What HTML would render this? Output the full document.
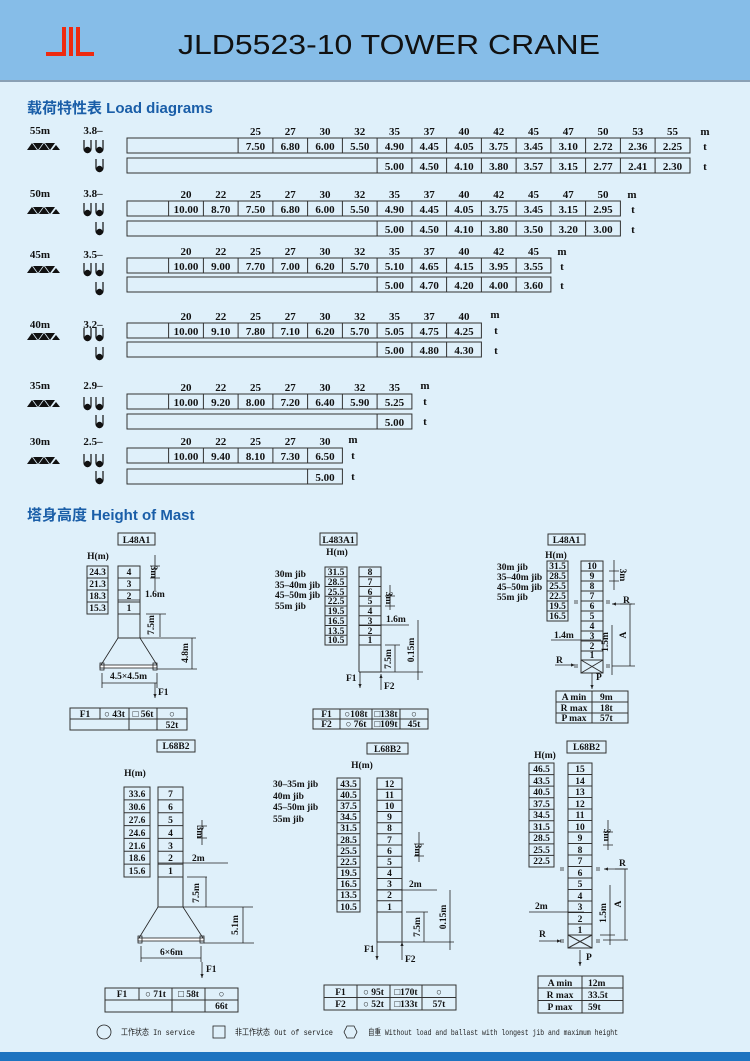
<!DOCTYPE html>
<html><head><meta charset="utf-8"><style>
html,body{margin:0;padding:0;background:#dff0fa;}
svg{display:block}
.n{font-family:"Liberation Serif",serif;font-weight:bold;font-size:11px;text-anchor:middle;fill:#111}
.s{font-family:"Liberation Serif",serif;font-weight:bold;font-size:9.5px;fill:#111}
.c{text-anchor:middle}
.b{fill:none;stroke:#333;stroke-width:1}
.l{stroke:#222;stroke-width:0.8;fill:none}
</style></head><body>
<svg width="750" height="1061" viewBox="0 0 750 1061" xmlns="http://www.w3.org/2000/svg">
<defs>
<g id="jib"><polygon points="0,7 5,0 10,7" fill="#111"/><polygon points="6,0 16,0 11,7" fill="#111"/><polygon points="12,7 17,0 22,7" fill="#111"/><polygon points="18,0 28,0 23,7" fill="#111"/><polygon points="25,7 29,2 33,7" fill="#111"/></g>
<g id="hk"><path d="M0,-8 V1 A3.5,3.5 0 0 0 7,1 V-8" fill="none" stroke="#111" stroke-width="1.2"/><circle cx="3.5" cy="2" r="3.2" fill="#111"/></g>
<marker id="ar" markerWidth="6" markerHeight="6" refX="5" refY="3" orient="auto"><path d="M0,1 L5,3 L0,5z" fill="#222"/></marker>
</defs>
<rect x="0" y="0" width="750" height="80" fill="#86bde8"/>
<rect x="0" y="80" width="750" height="2" fill="#8aa0b4"/>
<g fill="#ee2a10"><rect x="46" y="52" width="20" height="4"/><rect x="62" y="27" width="4" height="29"/><rect x="69" y="27" width="4" height="29"/><rect x="76" y="27" width="4" height="29"/><rect x="76" y="52" width="18" height="4"/></g>
<text x="178" y="54" font-family="Liberation Sans,sans-serif" font-size="28" fill="#111" textLength="422" lengthAdjust="spacingAndGlyphs">JLD5523-10   TOWER  CRANE</text>
<rect x="0" y="1052" width="750" height="9" fill="#1e74c0"/>

<text x="27" y="113" font-family="Liberation Sans,'Noto Sans CJK SC',sans-serif" font-weight="bold" font-size="15" fill="#1a5ea8">载荷特性表 Load diagrams</text>
<text x="27" y="520" font-family="Liberation Sans,'Noto Sans CJK SC',sans-serif" font-weight="bold" font-size="15" fill="#1a5ea8">塔身高度 Height of Mast</text>

<g class="n">
<text x="40" y="134">55m</text><text x="93" y="134">3.8–</text>
<text x="40" y="197">50m</text><text x="93" y="197">3.8–</text>
<text x="40" y="258">45m</text><text x="93" y="258">3.5–</text>
<text x="40" y="328">40m</text><text x="93" y="328">3.2–</text>
<text x="40" y="389">35m</text><text x="93" y="389">2.9–</text>
<text x="40" y="445">30m</text><text x="93" y="445">2.5–</text>
</g>
<use href="#jib" x="27" y="143"/><use href="#hk" x="84" y="148"/><use href="#hk" x="96" y="148"/><use href="#hk" x="96" y="167"/>
<use href="#jib" x="27" y="207"/><use href="#hk" x="84" y="211"/><use href="#hk" x="96" y="211"/><use href="#hk" x="96" y="230"/>
<use href="#jib" x="27" y="266"/><use href="#hk" x="84" y="271"/><use href="#hk" x="96" y="271"/><use href="#hk" x="96" y="290"/>
<use href="#jib" x="27" y="333"/><use href="#hk" x="84" y="336"/><use href="#hk" x="96" y="336"/><use href="#hk" x="96" y="355"/>
<use href="#jib" x="27" y="400"/><use href="#hk" x="84" y="405"/><use href="#hk" x="96" y="405"/><use href="#hk" x="96" y="423"/>
<use href="#jib" x="27" y="457"/><use href="#hk" x="84" y="462"/><use href="#hk" x="96" y="462"/><use href="#hk" x="96" y="479"/>

<!-- 55m -->
<g class="b"><rect x="127" y="138" width="563" height="15"/><rect x="127" y="158" width="563" height="15"/>
<path d="M238.1,138v15M272.9,138v15M307.6,138v15M342.4,138v15M377.1,138v15M411.9,138v15M446.6,138v15M481.4,138v15M516.1,138v15M550.9,138v15M585.6,138v15M620.4,138v15M655.1,138v15"/>
<path d="M377.1,158v15M411.9,158v15M446.6,158v15M481.4,158v15M516.1,158v15M550.9,158v15M585.6,158v15M620.4,158v15M655.1,158v15"/></g>
<g class="n"><text x="255.5" y="135">25</text><text x="290.3" y="135">27</text><text x="325" y="135">30</text><text x="359.8" y="135">32</text><text x="394.5" y="135">35</text><text x="429.3" y="135">37</text><text x="464" y="135">40</text><text x="498.8" y="135">42</text><text x="533.5" y="135">45</text><text x="568.3" y="135">47</text><text x="603" y="135">50</text><text x="637.8" y="135">53</text><text x="672.5" y="135">55</text><text x="705" y="135">m</text>
<text x="255.5" y="150">7.50</text><text x="290.3" y="150">6.80</text><text x="325" y="150">6.00</text><text x="359.8" y="150">5.50</text><text x="394.5" y="150">4.90</text><text x="429.3" y="150">4.45</text><text x="464" y="150">4.05</text><text x="498.8" y="150">3.75</text><text x="533.5" y="150">3.45</text><text x="568.3" y="150">3.10</text><text x="603" y="150">2.72</text><text x="637.8" y="150">2.36</text><text x="672.5" y="150">2.25</text><text x="705" y="150">t</text>
<text x="394.5" y="170">5.00</text><text x="429.3" y="170">4.50</text><text x="464" y="170">4.10</text><text x="498.8" y="170">3.80</text><text x="533.5" y="170">3.57</text><text x="568.3" y="170">3.15</text><text x="603" y="170">2.77</text><text x="637.8" y="170">2.41</text><text x="672.5" y="170">2.30</text><text x="705" y="170">t</text></g>

<!-- 50m -->
<g class="b"><rect x="127" y="201" width="493.4" height="15"/><rect x="127" y="221" width="493.4" height="15"/>
<path d="M168.6,201v15M203.4,201v15M238.1,201v15M272.9,201v15M307.6,201v15M342.4,201v15M377.1,201v15M411.9,201v15M446.6,201v15M481.4,201v15M516.1,201v15M550.9,201v15M585.6,201v15"/>
<path d="M377.1,221v15M411.9,221v15M446.6,221v15M481.4,221v15M516.1,221v15M550.9,221v15M585.6,221v15"/></g>
<g class="n"><text x="186" y="198">20</text><text x="220.8" y="198">22</text><text x="255.5" y="198">25</text><text x="290.3" y="198">27</text><text x="325" y="198">30</text><text x="359.8" y="198">32</text><text x="394.5" y="198">35</text><text x="429.3" y="198">37</text><text x="464" y="198">40</text><text x="498.8" y="198">42</text><text x="533.5" y="198">45</text><text x="568.3" y="198">47</text><text x="603" y="198">50</text><text x="632" y="198">m</text>
<text x="186" y="213">10.00</text><text x="220.8" y="213">8.70</text><text x="255.5" y="213">7.50</text><text x="290.3" y="213">6.80</text><text x="325" y="213">6.00</text><text x="359.8" y="213">5.50</text><text x="394.5" y="213">4.90</text><text x="429.3" y="213">4.45</text><text x="464" y="213">4.05</text><text x="498.8" y="213">3.75</text><text x="533.5" y="213">3.45</text><text x="568.3" y="213">3.15</text><text x="603" y="213">2.95</text><text x="633" y="213">t</text>
<text x="394.5" y="233">5.00</text><text x="429.3" y="233">4.50</text><text x="464" y="233">4.10</text><text x="498.8" y="233">3.80</text><text x="533.5" y="233">3.50</text><text x="568.3" y="233">3.20</text><text x="603" y="233">3.00</text><text x="633" y="233">t</text></g>

<!-- 45m -->
<g class="b"><rect x="127" y="258" width="423.9" height="15"/><rect x="127" y="277" width="423.9" height="15"/>
<path d="M168.6,258v15M203.4,258v15M238.1,258v15M272.9,258v15M307.6,258v15M342.4,258v15M377.1,258v15M411.9,258v15M446.6,258v15M481.4,258v15M516.1,258v15"/>
<path d="M377.1,277v15M411.9,277v15M446.6,277v15M481.4,277v15M516.1,277v15"/></g>
<g class="n"><text x="186" y="255">20</text><text x="220.8" y="255">22</text><text x="255.5" y="255">25</text><text x="290.3" y="255">27</text><text x="325" y="255">30</text><text x="359.8" y="255">32</text><text x="394.5" y="255">35</text><text x="429.3" y="255">37</text><text x="464" y="255">40</text><text x="498.8" y="255">42</text><text x="533.5" y="255">45</text><text x="562" y="255">m</text>
<text x="186" y="270">10.00</text><text x="220.8" y="270">9.00</text><text x="255.5" y="270">7.70</text><text x="290.3" y="270">7.00</text><text x="325" y="270">6.20</text><text x="359.8" y="270">5.70</text><text x="394.5" y="270">5.10</text><text x="429.3" y="270">4.65</text><text x="464" y="270">4.15</text><text x="498.8" y="270">3.95</text><text x="533.5" y="270">3.55</text><text x="562" y="270">t</text>
<text x="394.5" y="289">5.00</text><text x="429.3" y="289">4.70</text><text x="464" y="289">4.20</text><text x="498.8" y="289">4.00</text><text x="533.5" y="289">3.60</text><text x="562" y="289">t</text></g>

<!-- 40m -->
<g class="b"><rect x="127" y="323" width="354.4" height="15"/><rect x="127" y="342" width="354.4" height="15"/>
<path d="M168.6,323v15M203.4,323v15M238.1,323v15M272.9,323v15M307.6,323v15M342.4,323v15M377.1,323v15M411.9,323v15M446.6,323v15"/>
<path d="M377.1,342v15M411.9,342v15M446.6,342v15"/></g>
<g class="n"><text x="186" y="320">20</text><text x="220.8" y="320">22</text><text x="255.5" y="320">25</text><text x="290.3" y="320">27</text><text x="325" y="320">30</text><text x="359.8" y="320">32</text><text x="394.5" y="320">35</text><text x="429.3" y="320">37</text><text x="464" y="320">40</text><text x="495" y="318">m</text>
<text x="186" y="335">10.00</text><text x="220.8" y="335">9.10</text><text x="255.5" y="335">7.80</text><text x="290.3" y="335">7.10</text><text x="325" y="335">6.20</text><text x="359.8" y="335">5.70</text><text x="394.5" y="335">5.05</text><text x="429.3" y="335">4.75</text><text x="464" y="335">4.25</text><text x="496" y="334">t</text>
<text x="394.5" y="354">5.00</text><text x="429.3" y="354">4.80</text><text x="464" y="354">4.30</text><text x="496" y="354">t</text></g>

<!-- 35m -->
<g class="b"><rect x="127" y="394" width="284.9" height="15"/><rect x="127" y="414" width="284.9" height="15"/>
<path d="M168.6,394v15M203.4,394v15M238.1,394v15M272.9,394v15M307.6,394v15M342.4,394v15M377.1,394v15"/>
<path d="M377.1,414v15"/></g>
<g class="n"><text x="186" y="391">20</text><text x="220.8" y="391">22</text><text x="255.5" y="391">25</text><text x="290.3" y="391">27</text><text x="325" y="391">30</text><text x="359.8" y="391">32</text><text x="394.5" y="391">35</text><text x="425" y="389">m</text>
<text x="186" y="406">10.00</text><text x="220.8" y="406">9.20</text><text x="255.5" y="406">8.00</text><text x="290.3" y="406">7.20</text><text x="325" y="406">6.40</text><text x="359.8" y="406">5.90</text><text x="394.5" y="406">5.25</text><text x="425" y="405">t</text>
<text x="394.5" y="426">5.00</text><text x="425" y="425">t</text></g>

<!-- 30m -->
<g class="b"><rect x="127" y="448" width="215.4" height="15"/><rect x="127" y="469" width="215.4" height="15"/>
<path d="M168.6,448v15M203.4,448v15M238.1,448v15M272.9,448v15M307.6,448v15"/>
<path d="M307.6,469v15"/></g>
<g class="n"><text x="186" y="445">20</text><text x="220.8" y="445">22</text><text x="255.5" y="445">25</text><text x="290.3" y="445">27</text><text x="325" y="445">30</text><text x="353" y="443">m</text>
<text x="186" y="460">10.00</text><text x="220.8" y="460">9.40</text><text x="255.5" y="460">8.10</text><text x="290.3" y="460">7.30</text><text x="325" y="460">6.50</text><text x="353" y="459">t</text>
<text x="325" y="481">5.00</text><text x="353" y="480">t</text></g>

<!-- ===== Diagram 1 ===== -->
<g class="b"><rect x="118" y="533" width="37" height="12"/><rect x="87" y="566" width="21" height="48"/><path d="M87,578h21M87,590h21M87,602h21"/>
<rect x="118" y="566" width="22" height="48"/><path d="M118,578h22M118,590h22M118,602h22M118,614v24M140,614v24M118,638h22"/></g>
<g class="l"><path d="M118,638L101,665M140,638L157,665"/><rect x="100" y="665" width="57" height="3" fill="#fff"/><rect x="100" y="663" width="4" height="7"/><rect x="153" y="663" width="4" height="7"/>
<path d="M155,555v35M150,566h10M150,578h10"/><path d="M118,600h22"/><path d="M146,614h20M160,614v23"/><path d="M140,638h56M157,669h40M192,638v31"/><path d="M102,673v15M157,673v15M102,683h55"/>
<path d="M155,683v15" marker-end="url(#ar)"/></g>
<g class="s"><text x="136.5" y="543" class="c">L48A1</text><text x="98" y="559" class="c">H(m)</text>
<text x="97.5" y="575" class="c">24.3</text><text x="97.5" y="587" class="c">21.3</text><text x="97.5" y="599" class="c">18.3</text><text x="97.5" y="611" class="c">15.3</text>
<text x="129" y="575" class="c">4</text><text x="129" y="587" class="c">3</text><text x="129" y="599" class="c">2</text><text x="129" y="611" class="c">1</text>
<text x="145" y="597">1.6m</text><text x="110" y="679">4.5×4.5m</text><text x="158" y="695">F1</text>
<text transform="translate(151,572) rotate(90)" class="c">3m</text><text transform="translate(154,625) rotate(-90)" class="c">7.5m</text><text transform="translate(188,653) rotate(-90)" class="c">4.8m</text></g>
<g class="b"><rect x="70" y="708" width="117" height="22"/><path d="M70,719h117M100,708v11M129,708v22M157,708v22"/></g>
<g class="s"><text x="85" y="717" class="c">F1</text><text x="114.5" y="717" class="c">○ 43t</text><text x="143" y="717" class="c">□ 56t</text><text x="172" y="717" class="c">○</text><text x="172" y="728" class="c">52t</text></g>

<!-- ===== Diagram 2 ===== -->
<g class="b"><rect x="320" y="533" width="37" height="12"/><rect x="325" y="567" width="22" height="78"/><rect x="359" y="567" width="22" height="78"/>
<path d="M325,576.75h22M325,586.5h22M325,596.25h22M325,606h22M325,615.75h22M325,625.5h22M325,635.25h22"/>
<path d="M359,576.75h22M359,586.5h22M359,596.25h22M359,606h22M359,615.75h22M359,625.5h22M359,635.25h22M359,645v27M381,645v27M359,672h22"/></g>
<g class="l"><path d="M390,585v25M385,596h10M385,606h10"/><path d="M359,625h50"/><path d="M385,645h15M395,645v27M381,672h42M418,620v60"/>
<path d="M360,672v16" marker-end="url(#ar)"/><path d="M381,690v-16" marker-end="url(#ar)"/></g>
<g class="s"><text x="338.5" y="543" class="c">L483A1</text><text x="337" y="555" class="c">H(m)</text>
<text x="275" y="577">30m jib</text><text x="275" y="588">35–40m jib</text><text x="275" y="598">45–50m jib</text><text x="275" y="609">55m jib</text>
<text x="336" y="575" class="c">31.5</text><text x="336" y="585" class="c">28.5</text><text x="336" y="595" class="c">25.5</text><text x="336" y="604" class="c">22.5</text><text x="336" y="614" class="c">19.5</text><text x="336" y="624" class="c">16.5</text><text x="336" y="634" class="c">13.5</text><text x="336" y="643" class="c">10.5</text>
<text x="370" y="575" class="c">8</text><text x="370" y="585" class="c">7</text><text x="370" y="595" class="c">6</text><text x="370" y="604" class="c">5</text><text x="370" y="614" class="c">4</text><text x="370" y="624" class="c">3</text><text x="370" y="634" class="c">2</text><text x="370" y="643" class="c">1</text>
<text x="386" y="622">1.6m</text><text x="346" y="681">F1</text><text x="384" y="689">F2</text>
<text transform="translate(386,598) rotate(90)" class="c">3m</text><text transform="translate(391,659) rotate(-90)" class="c">7.5m</text><text transform="translate(414,650) rotate(-90)" class="c">0.15m</text></g>
<g class="b"><rect x="313" y="709" width="115" height="20"/><path d="M313,719h115M340,709v20M372,709v20M400,709v20"/></g>
<g class="s"><text x="326.5" y="717" class="c">F1</text><text x="356" y="717" class="c">○108t</text><text x="386" y="717" class="c">□138t</text><text x="414" y="717" class="c">○</text>
<text x="326.5" y="727" class="c">F2</text><text x="356" y="727" class="c">○ 76t</text><text x="386" y="727" class="c">□109t</text><text x="414" y="727" class="c">45t</text></g>

<!-- ===== Diagram 3 ===== -->
<g class="b"><rect x="548" y="534" width="37" height="11"/><rect x="547" y="561" width="21" height="60"/><path d="M547,571h21M547,581h21M547,591h21M547,601h21M547,611h21"/>
<rect x="581" y="561" width="22" height="112"/><path d="M581,571h22M581,581h22M581,591h22M581,601h22M581,611h22M581,621h22M581,631h22M581,641h22M581,651h22M581,660h22M581,660L603,673M603,660L581,673"/></g>
<g class="l"><path d="M574,603h4M606,603h4M574,665h4M606,665h4M574,601h4M606,601h4M574,667h4M606,667h4"/>
<path d="M614,560v30M609,571h10M609,581h10"/><path d="M632,604h-20" marker-end="url(#ar)"/><path d="M620,604h15M630,604v62M612,666h23"/>
<path d="M612,625v50"/><path d="M551,640h50"/><path d="M555,665h20" marker-end="url(#ar)"/><path d="M592,673v16" marker-end="url(#ar)"/></g>
<g class="s"><text x="566.5" y="543" class="c">L48A1</text><text x="556" y="558" class="c">H(m)</text>
<text x="497" y="570">30m jib</text><text x="497" y="580">35–40m jib</text><text x="497" y="590">45–50m jib</text><text x="497" y="600">55m jib</text>
<text x="557.5" y="569" class="c">31.5</text><text x="557.5" y="579" class="c">28.5</text><text x="557.5" y="589" class="c">25.5</text><text x="557.5" y="599" class="c">22.5</text><text x="557.5" y="609" class="c">19.5</text><text x="557.5" y="619" class="c">16.5</text>
<text x="592" y="569" class="c">10</text><text x="592" y="579" class="c">9</text><text x="592" y="589" class="c">8</text><text x="592" y="599" class="c">7</text><text x="592" y="609" class="c">6</text><text x="592" y="619" class="c">5</text><text x="592" y="629" class="c">4</text><text x="592" y="639" class="c">3</text><text x="592" y="649" class="c">2</text><text x="592" y="658" class="c">1</text>
<text x="623" y="603">R</text><text x="556" y="663">R</text><text x="554" y="638">1.4m</text><text x="596" y="680">P</text>
<text transform="translate(620,575) rotate(90)" class="c">3m</text><text transform="translate(608,642) rotate(-90)" class="c">1.5m</text><text transform="translate(626,635) rotate(-90)" class="c">A</text></g>
<g class="b"><rect x="556" y="691" width="72" height="32"/><path d="M556,702h72M556,713h72M592,691v32"/></g>
<g class="s"><text x="574" y="700" class="c">A min</text><text x="600" y="700">9m</text><text x="574" y="711" class="c">R max</text><text x="600" y="711">18t</text><text x="574" y="721" class="c">P max</text><text x="600" y="721">57t</text></g>

<!-- ===== Diagram 4 ===== -->
<g class="b"><rect x="157" y="740" width="38" height="12"/><rect x="124" y="787" width="26" height="90"/><path d="M124,799.9h26M124,812.7h26M124,825.6h26M124,838.4h26M124,851.3h26M124,864.1h26"/>
<rect x="158" y="787" width="25" height="90"/><path d="M158,799.9h25M158,812.7h25M158,825.6h25M158,838.4h25M158,851.3h25M158,864.1h25M158,877v30M183,877v30M158,907h25"/></g>
<g class="l"><path d="M158,907L139,938M183,907L203,938"/><rect x="138" y="938" width="66" height="3" fill="#fff"/><rect x="138" y="936" width="4" height="7"/><rect x="200" y="936" width="4" height="7"/>
<path d="M202,820v25M197,826h10M197,838h10"/><path d="M158,863h70"/><path d="M187,877h20M206,877v30"/><path d="M183,907h70M204,943h50M243,907v36"/>
<path d="M141,946v16M201,946v16M141,958h60"/><path d="M202,962v16" marker-end="url(#ar)"/></g>
<g class="s"><text x="176" y="749" class="c">L68B2</text><text x="135" y="776" class="c">H(m)</text>
<text x="137" y="797" class="c">33.6</text><text x="137" y="810" class="c">30.6</text><text x="137" y="823" class="c">27.6</text><text x="137" y="836" class="c">24.6</text><text x="137" y="849" class="c">21.6</text><text x="137" y="861" class="c">18.6</text><text x="137" y="874" class="c">15.6</text>
<text x="170.5" y="797" class="c">7</text><text x="170.5" y="810" class="c">6</text><text x="170.5" y="823" class="c">5</text><text x="170.5" y="836" class="c">4</text><text x="170.5" y="849" class="c">3</text><text x="170.5" y="861" class="c">2</text><text x="170.5" y="874" class="c">1</text>
<text x="192" y="861">2m</text><text x="160" y="955">6×6m</text><text x="206" y="972">F1</text>
<text transform="translate(197,832) rotate(90)" class="c">3m</text><text transform="translate(199,893) rotate(-90)" class="c">7.5m</text><text transform="translate(238,925) rotate(-90)" class="c">5.1m</text></g>
<g class="b"><rect x="105" y="988" width="133" height="24"/><path d="M105,1000h133M139,988v12M172,988v24M205,988v24"/></g>
<g class="s"><text x="122" y="997" class="c">F1</text><text x="155.5" y="997" class="c">○ 71t</text><text x="188.5" y="997" class="c">□ 58t</text><text x="221.5" y="997" class="c">○</text><text x="221.5" y="1009" class="c">66t</text></g>

<!-- ===== Diagram 5 ===== -->
<g class="b"><rect x="367" y="743" width="41" height="11"/><rect x="337" y="778" width="23" height="134"/><rect x="377" y="778" width="25" height="134"/>
<path d="M337,789.2h23M337,800.3h23M337,811.5h23M337,822.7h23M337,833.8h23M337,845h23M337,856.2h23M337,867.3h23M337,878.5h23M337,889.7h23M337,900.8h23"/>
<path d="M377,789.2h25M377,800.3h25M377,811.5h25M377,822.7h25M377,833.8h25M377,845h25M377,856.2h25M377,867.3h25M377,878.5h25M377,889.7h25M377,900.8h25M377,912v30M402,912v30M377,942h25"/></g>
<g class="l"><path d="M419,832v30M414,844h10M414,856h10"/><path d="M377,890h60"/><path d="M406,912h22M424,912v30M402,942h52M450,890v60"/>
<path d="M377,942v18" marker-end="url(#ar)"/><path d="M402,960v-18" marker-end="url(#ar)"/></g>
<g class="s"><text x="387.5" y="752" class="c">L68B2</text><text x="362" y="768" class="c">H(m)</text>
<text x="273" y="787">30–35m jib</text><text x="273" y="799">40m jib</text><text x="273" y="810">45–50m jib</text><text x="273" y="822">55m jib</text>
<text x="348.5" y="787" class="c">43.5</text><text x="348.5" y="798" class="c">40.5</text><text x="348.5" y="809" class="c">37.5</text><text x="348.5" y="820" class="c">34.5</text><text x="348.5" y="831" class="c">31.5</text><text x="348.5" y="843" class="c">28.5</text><text x="348.5" y="854" class="c">25.5</text><text x="348.5" y="865" class="c">22.5</text><text x="348.5" y="876" class="c">19.5</text><text x="348.5" y="887" class="c">16.5</text><text x="348.5" y="898" class="c">13.5</text><text x="348.5" y="910" class="c">10.5</text>
<text x="389.5" y="787" class="c">12</text><text x="389.5" y="798" class="c">11</text><text x="389.5" y="809" class="c">10</text><text x="389.5" y="820" class="c">9</text><text x="389.5" y="831" class="c">8</text><text x="389.5" y="843" class="c">7</text><text x="389.5" y="854" class="c">6</text><text x="389.5" y="865" class="c">5</text><text x="389.5" y="876" class="c">4</text><text x="389.5" y="887" class="c">3</text><text x="389.5" y="898" class="c">2</text><text x="389.5" y="910" class="c">1</text>
<text x="409" y="887">2m</text><text x="364" y="952">F1</text><text x="405" y="962">F2</text>
<text transform="translate(415,850) rotate(90)" class="c">3m</text><text transform="translate(420,927) rotate(-90)" class="c">7.5m</text><text transform="translate(446,917) rotate(-90)" class="c">0.15m</text></g>
<g class="b"><rect x="324" y="985" width="132" height="25"/><path d="M324,997.5h132M357,985v25M390,985v25M422,985v25"/></g>
<g class="s"><text x="340.5" y="995" class="c">F1</text><text x="373.5" y="995" class="c">○ 95t</text><text x="406" y="995" class="c">□170t</text><text x="439" y="995" class="c">○</text>
<text x="340.5" y="1007" class="c">F2</text><text x="373.5" y="1007" class="c">○ 52t</text><text x="406" y="1007" class="c">□133t</text><text x="439" y="1007" class="c">57t</text></g>

<!-- ===== Diagram 6 ===== -->
<g class="b"><rect x="567" y="741" width="39" height="12"/><rect x="529" y="763" width="25" height="104"/>
<path d="M529,774.6h25M529,786.1h25M529,797.7h25M529,809.2h25M529,820.8h25M529,832.3h25M529,843.9h25M529,855.4h25"/>
<rect x="568" y="763" width="24" height="185"/>
<path d="M568,774.5h24M568,786h24M568,797.5h24M568,809h24M568,820.5h24M568,832h24M568,843.5h24M568,855h24M568,866.5h24M568,878h24M568,889.5h24M568,901h24M568,912.5h24M568,924h24M568,935h24M568,935L592,948M592,935L568,948"/></g>
<g class="l"><path d="M560,868h4M596,868h4M560,870h4M596,870h4M560,940h4M596,940h4M560,942h4M596,942h4"/>
<path d="M608,820v30M603,832h10M603,845h10"/><path d="M628,869h-24" marker-end="url(#ar)"/><path d="M615,869h12M625,869v71M603,940h25"/>
<path d="M610,885v60M600,935h15"/><path d="M529,912h55"/><path d="M539,941h22" marker-end="url(#ar)"/><path d="M580,950v16" marker-end="url(#ar)"/></g>
<g class="s"><text x="586.5" y="750" class="c">L68B2</text><text x="545" y="758" class="c">H(m)</text>
<text x="541.5" y="772" class="c">46.5</text><text x="541.5" y="784" class="c">43.5</text><text x="541.5" y="795" class="c">40.5</text><text x="541.5" y="807" class="c">37.5</text><text x="541.5" y="818" class="c">34.5</text><text x="541.5" y="830" class="c">31.5</text><text x="541.5" y="841" class="c">28.5</text><text x="541.5" y="853" class="c">25.5</text><text x="541.5" y="864" class="c">22.5</text>
<text x="580" y="772" class="c">15</text><text x="580" y="784" class="c">14</text><text x="580" y="795" class="c">13</text><text x="580" y="807" class="c">12</text><text x="580" y="818" class="c">11</text><text x="580" y="830" class="c">10</text><text x="580" y="841" class="c">9</text><text x="580" y="853" class="c">8</text><text x="580" y="864" class="c">7</text><text x="580" y="876" class="c">6</text><text x="580" y="887" class="c">5</text><text x="580" y="899" class="c">4</text><text x="580" y="910" class="c">3</text><text x="580" y="922" class="c">2</text><text x="580" y="933" class="c">1</text>
<text x="619" y="866">R</text><text x="539" y="937">R</text><text x="535" y="909">2m</text><text x="586" y="960">P</text>
<text transform="translate(604,835) rotate(90)" class="c">3m</text><text transform="translate(606,913) rotate(-90)" class="c">1.5m</text><text transform="translate(621,904) rotate(-90)" class="c">A</text></g>
<g class="b"><rect x="538" y="976" width="85" height="37"/><path d="M538,988h85M538,1000.5h85M582,976v37"/></g>
<g class="s"><text x="560" y="986" class="c">A min</text><text x="588" y="986">12m</text><text x="560" y="998" class="c">R max</text><text x="588" y="998">33.5t</text><text x="560" y="1010" class="c">P max</text><text x="588" y="1010">59t</text></g>

<!-- legend -->
<g class="l" stroke="#444"><circle cx="104" cy="1032" r="7"/><rect x="213" y="1026" width="12" height="12"/><polygon points="344,1032 347,1026 354,1026 357,1032 354,1038 347,1038"/></g>
<g font-family="'Liberation Mono','Noto Sans CJK SC',monospace" font-size="8.5" fill="#222">
<text x="121" y="1035" textLength="74" lengthAdjust="spacingAndGlyphs">工作状态 In service</text><text x="235" y="1035" textLength="98" lengthAdjust="spacingAndGlyphs">非工作状态 Out of service</text><text x="368" y="1035" textLength="250" lengthAdjust="spacingAndGlyphs">自重 Without load and ballast with longest jib and maximum height</text></g>
</svg>
</body></html>
